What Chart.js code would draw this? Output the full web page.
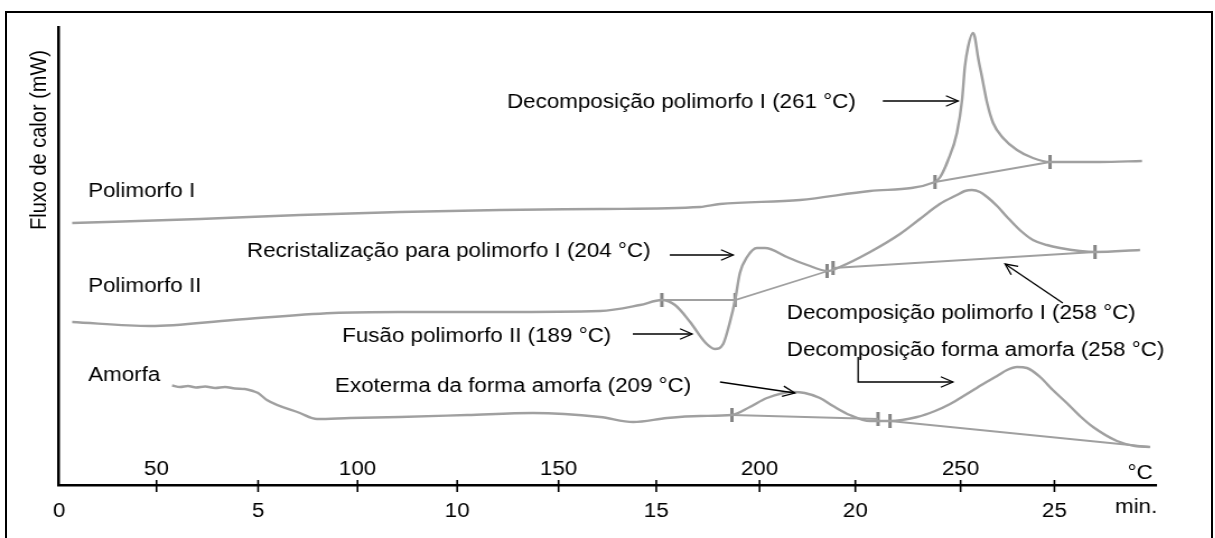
<!DOCTYPE html>
<html lang="pt">
<head>
<meta charset="utf-8">
<title>Fluxo de calor</title>
<script src="https://cdn.jsdelivr.net/npm/chart.js@4.4.1/dist/chart.umd.min.js"></script>
<style>
  body { margin: 0; background: #fff; }
  #wrap { position: relative; width: 1215px; height: 538px; overflow: hidden; }
  #frame { position: absolute; left: 5px; top: 11px; width: 1208px; height: 560px; box-sizing: border-box; border: 2px solid #000; }
  #dsc { position: absolute; left: 0; top: 0; transform: scaleX(1.12); transform-origin: 0 0; }
</style>
</head>
<body>
<div id="wrap">
  <div id="frame"></div>
  <canvas id="dsc" width="1085" height="538"></canvas>
</div>
<script>
// axis ticks: time (min) below the axis, temperature (°C) above it
const minuteTicks = [0, 5, 10, 15, 20, 25];
const tempTicks = [50, 100, 150, 200, 250];

// Polimorfo I
const polyITime = [0.33, 3.54, 6.05, 8.56, 11.08, 13.59, 16.10, 16.60, 18.61, 20.37, 22.00, 22.13, 22.33, 22.55,
  22.68, 22.75, 22.83, 22.95, 23.00, 23.08, 23.18, 23.31, 23.46, 23.71, 24.06, 24.46, 24.89, 26.14, 27.20];
const polyIFlow = [26.2, 26.6, 27.0, 27.3, 27.5, 27.6, 27.8, 28.1, 28.5, 29.4, 30.3, 30.8, 32.5, 35.2,
  38.5, 41.8, 43.8, 45.2, 44.8, 42.8, 40.8, 38.2, 36.2, 34.7, 33.5, 32.7, 32.3, 32.3, 32.4];

// Polimorfo II
const polyIITime = [0.33, 2.29, 4.37, 6.88, 8.56, 11.08, 13.59, 14.59, 15.14, 15.47, 15.85, 16.22, 16.47, 16.68,
  16.85, 16.98, 17.10, 17.28, 17.53, 17.73, 18.28, 18.79, 19.31, 19.61, 20.37, 21.12, 21.62, 22.12, 22.55,
  22.75, 22.93, 23.13, 23.31, 23.56, 23.81, 24.13, 24.46, 24.81, 25.14, 25.64, 26.02, 27.15];
const polyIIFlow = [16.3, 15.9, 16.5, 17.2, 17.3, 17.3, 17.4, 18.0, 18.5, 18.0, 16.3, 14.3, 13.6, 14.1,
  16.3, 18.5, 21.2, 22.8, 23.7, 23.7, 22.8, 22.0, 21.4, 21.8, 23.3, 25.1, 26.6, 28.1, 29.0,
  29.4, 29.5, 29.3, 28.8, 27.9, 26.8, 25.5, 24.5, 24.0, 23.7, 23.4, 23.3, 23.5];

// Amorfa
const amorphTime = [2.84, 3.04, 3.24, 3.44, 3.67, 3.92, 4.17, 4.42, 4.67, 4.87, 5.00, 5.22, 6.05, 6.48, 7.31,
  8.56, 10.25, 11.90, 13.59, 14.42, 15.27, 16.10, 16.90, 17.35, 17.78, 18.43, 18.73, 19.11, 19.44, 19.86,
  20.37, 20.67, 20.87, 21.55, 22.00, 22.38, 22.80, 23.21, 23.56, 23.81, 24.06, 24.31, 24.64, 24.96, 25.31,
  25.64, 25.97, 26.57, 27.02, 27.40];
const amorphFlow = [9.95, 9.8, 9.9, 9.75, 9.85, 9.7, 9.8, 9.65, 9.6, 9.4, 9.2, 8.5, 7.2, 6.6, 6.7,
  6.8, 7.0, 7.2, 6.8, 6.3, 6.7, 6.9, 7.0, 7.8, 8.7, 9.3, 9.2, 8.7, 7.9, 7.0,
  6.4, 6.4, 6.4, 6.8, 7.4, 8.1, 9.1, 10.1, 10.9, 11.5, 11.8, 11.7, 10.8, 9.5, 8.2,
  6.9, 5.8, 4.4, 3.9, 3.8];

// integration baselines (null breaks the line)
const polyIBaseTime = [22.00, 24.89];
const polyIBaseFlow = [30.3, 32.3];
const polyIIBaseTime = [15.14, 16.98, 19.31, 19.38, 19.44, 26.02];
const polyIIBaseFlow = [18.5, 18.5, 21.4, null, 21.7, 23.3];
const amorphBaseTime = [16.90, 20.57, 20.72, 20.87, 27.40];
const amorphBaseFlow = [7.0, 6.6, null, 6.4, 3.8];

// integration limits
const limitTime = [22.00, 24.89, 15.14, 16.98, 19.29, 19.44, 26.02, 16.90, 20.57, 20.87];
const limitFlow = [30.3, 32.3, 18.5, 18.5, 21.4, 21.7, 23.3, 7.0, 6.6, 6.4];

const FONT = '20px "Liberation Sans", Arial, sans-serif';
const CURVE = '#a0a0a0';

// text labels, placed in axis units (left edge, baseline)
const notes = [
  { text: 'Polimorfo I', t: 0.73, v: 28.8 },
  { text: 'Polimorfo II', t: 0.73, v: 19.3 },
  { text: 'Amorfa', t: 0.73, v: 10.4 },
  { text: 'Decomposição polimorfo I (261 °C)', t: 11.25, v: 37.7 },
  { text: 'Recristalização para polimorfo I (204 °C)', t: 4.72, v: 22.8 },
  { text: 'Fusão polimorfo II (189 °C)', t: 7.11, v: 14.3 },
  { text: 'Exoterma da forma amorfa (209 °C)', t: 6.93, v: 9.3 },
  { text: 'Decomposição polimorfo I (258 °C)', t: 18.28, v: 16.6 },
  { text: 'Decomposição forma amorfa (258 °C)', t: 18.28, v: 12.9 },
  { text: '°C', t: 26.84, v: 0.6 },
  { text: 'min.', t: 26.52, v: -2.8 }
];

// arrows, head at the last point
const arrows = [
  [[20.69, 38.4], [22.58, 38.4]],
  [[15.34, 23.0], [16.93, 23.0]],
  [[14.41, 15.1], [15.90, 15.1]],
  [[16.60, 10.3], [18.48, 9.2]],
  [[25.21, 18.2], [23.76, 22.1]],
  [[20.07, 12.8], [20.07, 10.3], [22.45, 10.3]]
];

function toPoints(xs, ys) {
  return xs.map((x, i) => ({ x: x, y: ys[i] }));
}

function curve(label, xs, ys) {
  return {
    label: label,
    data: toPoints(xs, ys),
    borderColor: CURVE,
    borderWidth: 2.4,
    pointRadius: 0,
    cubicInterpolationMode: 'monotone',
    xAxisID: 'x',
    yAxisID: 'y'
  };
}

function baseline(label, xs, ys) {
  return {
    label: label,
    data: toPoints(xs, ys),
    borderColor: CURVE,
    borderWidth: 1.8,
    pointRadius: 0,
    spanGaps: false,
    xAxisID: 'x',
    yAxisID: 'y'
  };
}

const annotate = {
  id: 'annotate',
  beforeDatasetsDraw(chart) {
    chart.ctx.save();
    chart.ctx.filter = 'blur(0.45px)';
  },
  afterDatasetsDraw(chart) {
    chart.ctx.restore();
  },
  afterDraw(chart) {
    const { ctx, chartArea } = chart;
    const x = chart.scales.x, xT = chart.scales.xT, y = chart.scales.y;
    ctx.save();

    // tick marks cross the time axis
    ctx.strokeStyle = '#000';
    ctx.lineWidth = 1.6;
    [x, xT].forEach(scale => {
      scale.ticks.forEach(tk => {
        if (tk.value <= scale.min) return;
        const px = scale.getPixelForValue(tk.value);
        ctx.beginPath();
        ctx.moveTo(px, chartArea.bottom - 5);
        ctx.lineTo(px, chartArea.bottom + 7);
        ctx.stroke();
      });
    });

    ctx.fillStyle = '#000';
    ctx.font = FONT;
    ctx.textAlign = 'left';
    ctx.textBaseline = 'alphabetic';
    notes.forEach(n => {
      ctx.fillText(n.text, x.getPixelForValue(n.t), y.getPixelForValue(n.v));
    });

    // y axis title
    ctx.save();
    ctx.translate(chartArea.left - 12, y.getPixelForValue(34.5));
    ctx.rotate(-Math.PI / 2);
    ctx.textAlign = 'center';
    ctx.fillText('Fluxo de calor (mW)', 0, 0);
    ctx.restore();

    ctx.lineWidth = 1.3;
    arrows.forEach(path => {
      const pts = path.map(p => [x.getPixelForValue(p[0]), y.getPixelForValue(p[1])]);
      ctx.beginPath();
      ctx.moveTo(pts[0][0], pts[0][1]);
      pts.slice(1).forEach(p => ctx.lineTo(p[0], p[1]));
      ctx.stroke();
      const tip = pts[pts.length - 1], prev = pts[pts.length - 2];
      const ang = Math.atan2(tip[1] - prev[1], tip[0] - prev[0]);
      ctx.beginPath();
      ctx.moveTo(tip[0] - 12 * Math.cos(ang - 0.45), tip[1] - 12 * Math.sin(ang - 0.45));
      ctx.lineTo(tip[0], tip[1]);
      ctx.lineTo(tip[0] - 12 * Math.cos(ang + 0.45), tip[1] - 12 * Math.sin(ang + 0.45));
      ctx.stroke();
    });
    ctx.restore();
  }
};

const tickFont = { family: '"Liberation Sans", Arial, sans-serif', size: 20 };

new Chart(document.getElementById('dsc'), {
  type: 'line',
  data: {
    datasets: [
      curve('Polimorfo I', polyITime, polyIFlow),
      curve('Polimorfo II', polyIITime, polyIIFlow),
      curve('Amorfa', amorphTime, amorphFlow),
      baseline('Linha base I', polyIBaseTime, polyIBaseFlow),
      baseline('Linha base II', polyIIBaseTime, polyIIBaseFlow),
      baseline('Linha base amorfa', amorphBaseTime, amorphBaseFlow),
      {
        label: 'Limites',
        data: toPoints(limitTime, limitFlow),
        showLine: false,
        pointStyle: 'line',
        rotation: 90,
        pointRadius: 7,
        pointBorderWidth: 3,
        pointBorderColor: '#858585',
        xAxisID: 'x',
        yAxisID: 'y'
      }
    ]
  },
  options: {
    responsive: false,
    animation: false,
    events: [],
    layout: { padding: { left: 52.7, right: 52.9, top: 27, bottom: 0 } },
    plugins: { legend: { display: false }, tooltip: { enabled: false } },
    scales: {
      x: {
        type: 'linear',
        axis: 'x',
        position: 'bottom',
        min: 0,
        max: 27.55,
        afterBuildTicks: s => { s.ticks = minuteTicks.map(v => ({ value: v })); },
        afterFit: s => { s.height = 53; },
        grid: { display: false, drawTicks: false },
        border: { display: true, color: '#000', width: 2.5 },
        ticks: { font: tickFont, color: '#000', padding: 14, maxRotation: 0, autoSkip: false }
      },
      xT: {
        type: 'linear',
        axis: 'x',
        position: { y: 0 },
        min: 25.75,
        max: 298.6,
        afterBuildTicks: s => { s.ticks = tempTicks.map(v => ({ value: v })); },
        grid: { display: false, drawTicks: false },
        border: { display: false },
        ticks: { font: tickFont, color: '#000', padding: -28, maxRotation: 0, autoSkip: false }
      },
      y: {
        type: 'linear',
        min: 0,
        max: 45.8,
        afterFit: s => { s.width = 0; },
        grid: { display: false, drawTicks: false },
        border: { display: true, color: '#000', width: 2.5 },
        ticks: { display: false }
      }
    }
  },
  plugins: [annotate]
});
</script>
</body>
</html>
